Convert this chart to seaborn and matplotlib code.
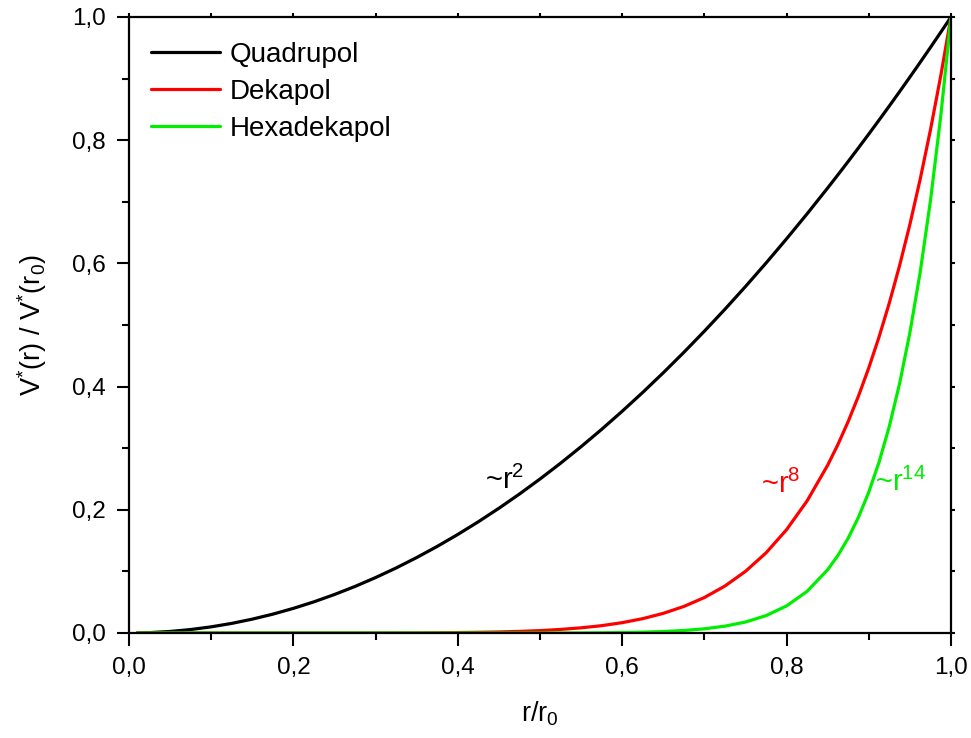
import numpy as np
import pandas as pd
import matplotlib
matplotlib.use("Agg")
import matplotlib.pyplot as plt
import seaborn as sns
from matplotlib.ticker import MultipleLocator, FuncFormatter

# values
r = [0.01, 0.025, 0.05, 0.075, 0.10, 0.125, 0.15, 0.175, 0.20, 0.225, 0.25,
     0.275, 0.30, 0.325, 0.35, 0.375, 0.40, 0.425, 0.45, 0.475, 0.50,
     0.525, 0.55, 0.575, 0.60, 0.625, 0.65, 0.675, 0.70, 0.725, 0.75,
     0.775, 0.80, 0.825, 0.85, 0.8625, 0.875, 0.8875, 0.90, 0.9125, 0.925,
     0.9375, 0.95, 0.9625, 0.975, 0.9875, 1.0]
quadrupol = [0.0001, 0.0006, 0.0025, 0.0056, 0.01, 0.0156, 0.0225, 0.0306, 0.04, 0.0506, 0.0625,
             0.0756, 0.09, 0.1056, 0.1225, 0.1406, 0.16, 0.1806, 0.2025, 0.2256, 0.25,
             0.2756, 0.3025, 0.3306, 0.36, 0.3906, 0.4225, 0.4556, 0.49, 0.5256, 0.5625,
             0.6006, 0.64, 0.6806, 0.7225, 0.7439, 0.7656, 0.7877, 0.81, 0.8327, 0.8556,
             0.8789, 0.9025, 0.9264, 0.9506, 0.9752, 1.0]
dekapol = [0.0, 0.0, 0.0, 0.0, 0.0, 0.0, 0.0, 0.0, 0.0, 0.0, 0.0,
           0.0, 0.0001, 0.0001, 0.0002, 0.0004, 0.0007, 0.0011, 0.0017, 0.0026, 0.0039,
           0.0058, 0.0084, 0.0119, 0.0168, 0.0233, 0.0319, 0.0431, 0.0576, 0.0763, 0.1001,
           0.1301, 0.1678, 0.2146, 0.2725, 0.3062, 0.3436, 0.3849, 0.4305, 0.4807, 0.5360,
           0.5967, 0.6634, 0.7366, 0.8167, 0.9043, 1.0]
hexadekapol = [0.0, 0.0, 0.0, 0.0, 0.0, 0.0, 0.0, 0.0, 0.0, 0.0, 0.0,
               0.0, 0.0, 0.0, 0.0, 0.0, 0.0, 0.0, 0.0, 0.0, 0.0001,
               0.0001, 0.0002, 0.0004, 0.0008, 0.0014, 0.0024, 0.0041, 0.0068, 0.0111, 0.0178,
               0.0282, 0.0440, 0.0677, 0.1028, 0.1261, 0.1542, 0.1881, 0.2288, 0.2775, 0.3357,
               0.4052, 0.4877, 0.5856, 0.7017, 0.8386, 1.0]

series = ["Quadrupol", "Dekapol", "Hexadekapol"]
colors = ["#000000", "#ff0000", "#00ee00"]
labels = ["~r$^\\mathregular{2}$", "~r$^\\mathregular{8}$", "~r$^\\mathregular{14}$"]

df = pd.DataFrame({
    "r": r * 3,
    "V": quadrupol + dekapol + hexadekapol,
    "series": sum([[s] * len(r) for s in series], []),
})

sns.set_style("ticks")
plt.rcParams["font.family"] = ["Liberation Sans", "DejaVu Sans"]
plt.rcParams["mathtext.fontset"] = "custom"
plt.rcParams["mathtext.rm"] = "Liberation Sans"
plt.rcParams["mathtext.it"] = "Liberation Sans"
for key in ["text.color", "axes.labelcolor", "xtick.color", "ytick.color", "axes.edgecolor"]:
    plt.rcParams[key] = "black"

fig = plt.figure(figsize=(9.71, 7.38), dpi=100)
ax = fig.add_axes([129 / 971, 1 - 633 / 738, 822 / 971, 616 / 738])

sns.lineplot(data=df, x="r", y="V", hue="series", palette=colors,
             hue_order=series, linewidth=2.3, ax=ax)

ax.set_xlim(0, 1)
ax.set_ylim(0, 1)
ax.xaxis.set_major_locator(MultipleLocator(0.2))
ax.xaxis.set_minor_locator(MultipleLocator(0.1))
ax.yaxis.set_major_locator(MultipleLocator(0.2))
ax.yaxis.set_minor_locator(MultipleLocator(0.1))
comma = FuncFormatter(lambda v, p: f"{v:.1f}".replace(".", ","))
ax.xaxis.set_major_formatter(comma)
ax.yaxis.set_major_formatter(comma)

for side in ["left", "right", "top", "bottom"]:
    ax.spines[side].set_linewidth(1.6)
ax.tick_params(which="major", direction="out", length=9, width=1.5, labelsize=17.5, pad=8)
ax.tick_params(which="minor", direction="out", length=5, width=1.5)
ax.tick_params(which="both", top=True, right=True)
for t in ax.xaxis.get_ticklines(minor=False)[1::2] + ax.yaxis.get_ticklines(minor=False)[1::2]:
    t.set_markersize(3)
for t in ax.xaxis.get_ticklines(minor=True)[1::2] + ax.yaxis.get_ticklines(minor=True)[1::2]:
    t.set_markersize(3)

ax.set_xlabel("r/r$_\\mathregular{0}$", fontsize=19.5, labelpad=15)
ax.set_ylabel("V$^\\mathregular{*}$(r) / V$^\\mathregular{*}$(r$_\\mathregular{0}$)",
              fontsize=19.5, labelpad=16)

ax.text(0.457, 0.247, labels[0], color=colors[0], fontsize=21, ha="center", va="center")
ax.text(0.793, 0.242, labels[1], color=colors[1], fontsize=21, ha="center", va="center")
ax.text(0.939, 0.245, labels[2], color=colors[2], fontsize=21, ha="center", va="center")

leg = ax.legend(loc="upper left", frameon=False, fontsize=20, handlelength=2.5,
                handletextpad=0.32, labelspacing=0.39, borderpad=0, borderaxespad=0,
                bbox_to_anchor=(22 / 822, 1 - 25 / 616))
for line in leg.get_lines():
    line.set_linewidth(2.3)

fig.savefig("out.png", dpi=100)
